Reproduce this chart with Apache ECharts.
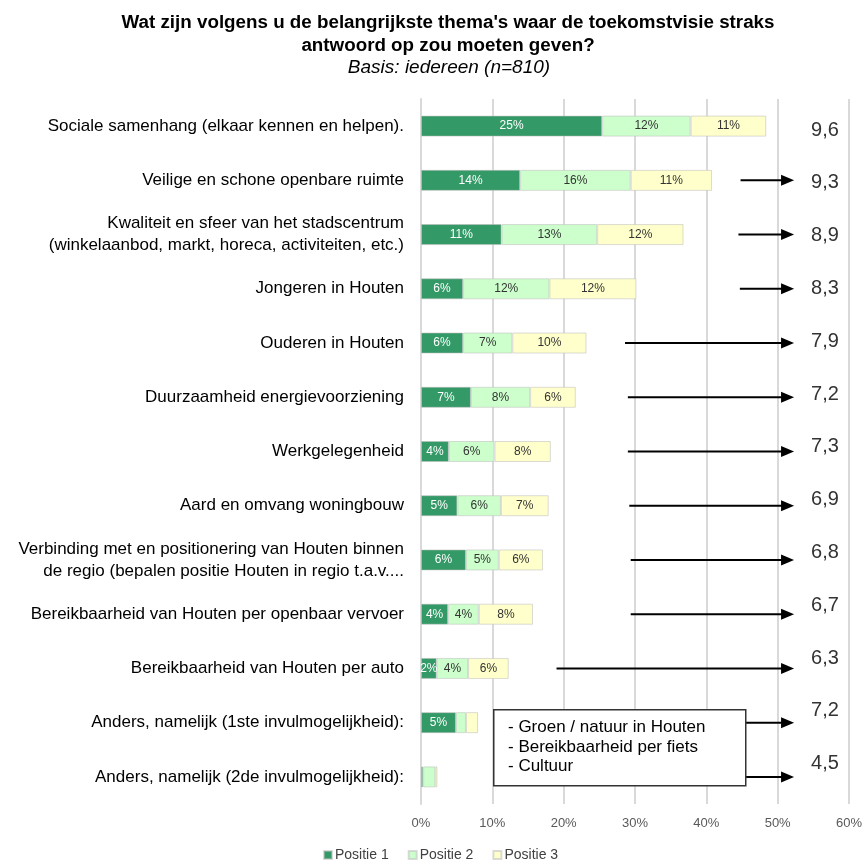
<!DOCTYPE html>
<html>
<head>
<meta charset="utf-8">
<script src="https://cdn.jsdelivr.net/npm/echarts@6/dist/echarts.min.js"></script>
<style>
  html, body { margin: 0; padding: 0; background: #fff; }
  #chart { width: 865px; height: 861px; }
</style>
</head>
<body>
<div id="chart"></div>
<script>
// Themes, top to bottom
const categories = [
  'Sociale samenhang (elkaar kennen en helpen).',
  'Veilige en schone openbare ruimte',
  'Kwaliteit en sfeer van het stadscentrum\n(winkelaanbod, markt, horeca, activiteiten, etc.)',
  'Jongeren in Houten',
  'Ouderen in Houten',
  'Duurzaamheid energievoorziening',
  'Werkgelegenheid',
  'Aard en omvang woningbouw',
  'Verbinding met en positionering van Houten binnen\nde regio (bepalen positie Houten in regio t.a.v....',
  'Bereikbaarheid van Houten per openbaar vervoer',
  'Bereikbaarheid van Houten per auto',
  'Anders, namelijk (1ste invulmogelijkheid):',
  'Anders, namelijk (2de invulmogelijkheid):'
];

// Share of respondents (%) naming the theme at position 1, 2 and 3
const positie1 = [25.4, 13.9, 11.3, 5.9, 5.9, 7.0, 3.9, 5.1, 6.3, 3.8, 2.2, 4.9, 0.3];
const positie2 = [12.4, 15.5, 13.4, 12.1, 6.9, 8.3, 6.4, 6.1, 4.6, 4.3, 4.4, 1.4, 1.7];
const positie3 = [10.6, 11.4, 12.1, 12.2, 10.4, 6.4, 7.9, 6.7, 6.2, 7.6, 5.7, 1.7, 0.3];

// Average importance score per theme
const scores = ['9,6', '9,3', '8,9', '8,3', '7,9', '7,2', '7,3', '6,9', '6,8', '6,7', '6,3', '7,2', '4,5'];

// Arrow from (x %) to the score column, per row; null = no arrow
const arrowFrom = [null, 44.8, 44.5, 44.7, 28.6, 29.0, 29.0, 29.2, 29.4, 29.4, 19.0, 45.1, 45.1];
const arrowTo = 52.3;
const scoreAt = 54.3;

// Open answers listed in the text box
const otherAnswers = ['- Groen / natuur in Houten', '- Bereikbaarheid per fiets', '- Cultuur'];

const xTicks = { min: 0, max: 60, interval: 10 };
const seriesNames = ['Positie 1', 'Positie 2', 'Positie 3'];
const colors = ['#339966', '#ccffcc', '#ffffcc'];

const FONT = '"Liberation Sans", Arial, sans-serif';

function barSeries(name, data, color, labelColor) {
  return {
    name: name,
    type: 'bar',
    stack: 'total',
    xAxisIndex: 0,
    yAxisIndex: 0,
    barWidth: 21,
    data: data,
    itemStyle: { color: color, borderColor: 'rgba(190,190,190,0.55)', borderWidth: 1 },
    label: {
      show: true,
      position: 'inside',
      color: labelColor,
      fontFamily: FONT,
      fontSize: 12,
      formatter: function (p) {
        return p.value >= 2 ? Math.round(p.value) + '%' : '';
      }
    },
    emphasis: { disabled: true }
  };
}

const chart = echarts.init(document.getElementById('chart'), null, { renderer: 'canvas' });

chart.setOption({
  animation: false,
  backgroundColor: '#ffffff',
  title: [
    {
      text: "Wat zijn volgens u de belangrijkste thema's waar de toekomstvisie straks\nantwoord op zou moeten geven?",
      left: 443,
      top: 6,
      textAlign: 'center',
      textStyle: { fontFamily: FONT, fontSize: 18.8, fontWeight: 'bold', color: '#000', lineHeight: 23 }
    },
    {
      text: 'Basis: iedereen (n=810)',
      left: 444,
      top: 53,
      textAlign: 'center',
      textStyle: { fontFamily: FONT, fontSize: 19, fontStyle: 'italic', fontWeight: 'normal', color: '#000' }
    }
  ],
  legend: {
    data: seriesNames,
    left: 323,
    top: 848,
    padding: 0,
    itemWidth: 8,
    itemHeight: 8,
    itemGap: 19,
    icon: 'rect',
    textStyle: { fontFamily: FONT, fontSize: 14, color: '#404040', padding: [0, 0, 0, -2] },
    selectedMode: false
  },
  grid: [
    { left: 421, right: 13, top: 99, bottom: 57 },
    { left: 421, right: 13, top: 103.6, bottom: 70.8 }
  ],
  xAxis: [
    {
      type: 'value',
      gridIndex: 0,
      min: xTicks.min,
      max: xTicks.max,
      interval: xTicks.interval,
      axisLine: { show: false },
      axisTick: { show: false },
      splitLine: { show: true, lineStyle: { color: '#d9d9d9', width: 2 } },
      axisLabel: { formatter: '{value}%', color: '#595959', fontFamily: FONT, fontSize: 13, margin: 13 }
    },
    {
      type: 'value',
      gridIndex: 1,
      min: xTicks.min,
      max: xTicks.max,
      show: false
    }
  ],
  yAxis: [
    {
      type: 'category',
      gridIndex: 0,
      data: categories,
      inverse: true,
      axisTick: { show: false },
      axisLine: { show: true, lineStyle: { color: '#d9d9d9', width: 2 } },
      axisLabel: { color: '#000', fontFamily: FONT, fontSize: 17, lineHeight: 22, margin: 17, align: 'right' }
    },
    {
      type: 'category',
      gridIndex: 1,
      data: categories,
      inverse: true,
      show: false
    }
  ],
  series: [
    barSeries(seriesNames[0], positie1, colors[0], '#ffffff'),
    barSeries(seriesNames[1], positie2, colors[1], '#333333'),
    barSeries(seriesNames[2], positie3, colors[2], '#333333'),
    {
      // arrows pointing to the score column
      type: 'custom',
      xAxisIndex: 0,
      yAxisIndex: 0,
      silent: true,
      z: 5,
      data: arrowFrom.map(function (v, i) { return v === null ? [NaN, i] : [v, i]; }),
      renderItem: function (params, api) {
        const from = api.value(0);
        if (isNaN(from)) return null;
        const row = api.value(1);
        const p0 = api.coord([from, row]);
        const p1 = api.coord([arrowTo, row]);
        const head = 13;
        return {
          type: 'group',
          children: [
            {
              type: 'line',
              shape: { x1: p0[0], y1: p0[1], x2: p1[0] - head + 1, y2: p1[1] },
              style: { stroke: '#000', lineWidth: 2 }
            },
            {
              type: 'polygon',
              shape: { points: [[p1[0], p1[1]], [p1[0] - head, p1[1] - 5.5], [p1[0] - head, p1[1] + 5.5]] },
              style: { fill: '#000' }
            }
          ]
        };
      }
    },
    {
      // score column
      type: 'custom',
      xAxisIndex: 1,
      yAxisIndex: 1,
      silent: true,
      data: scores.map(function (s, i) { return [scoreAt, i, s]; }),
      renderItem: function (params, api) {
        const p = api.coord([api.value(0), api.value(1)]);
        return {
          type: 'text',
          x: p[0],
          y: p[1],
          style: {
            text: scores[params.dataIndex],
            fontFamily: FONT,
            fontSize: 20,
            fill: '#333333',
            align: 'left',
            verticalAlign: 'middle'
          }
        };
      }
    }
  ],
  graphic: {
    elements: [
      {
        type: 'rect',
        left: 493,
        top: 709,
        z: 100,
        shape: { x: 0, y: 0, width: 252, height: 76 },
        style: { fill: '#ffffff', stroke: '#333333', lineWidth: 1.5 }
      },
      {
        type: 'text',
        left: 508,
        top: 718,
        z: 101,
        style: {
          text: otherAnswers.join('\n'),
          fontFamily: FONT,
          fontSize: 17,
          lineHeight: 19.5,
          fill: '#000000'
        }
      }
    ]
  }
});
</script>
</body>
</html>
